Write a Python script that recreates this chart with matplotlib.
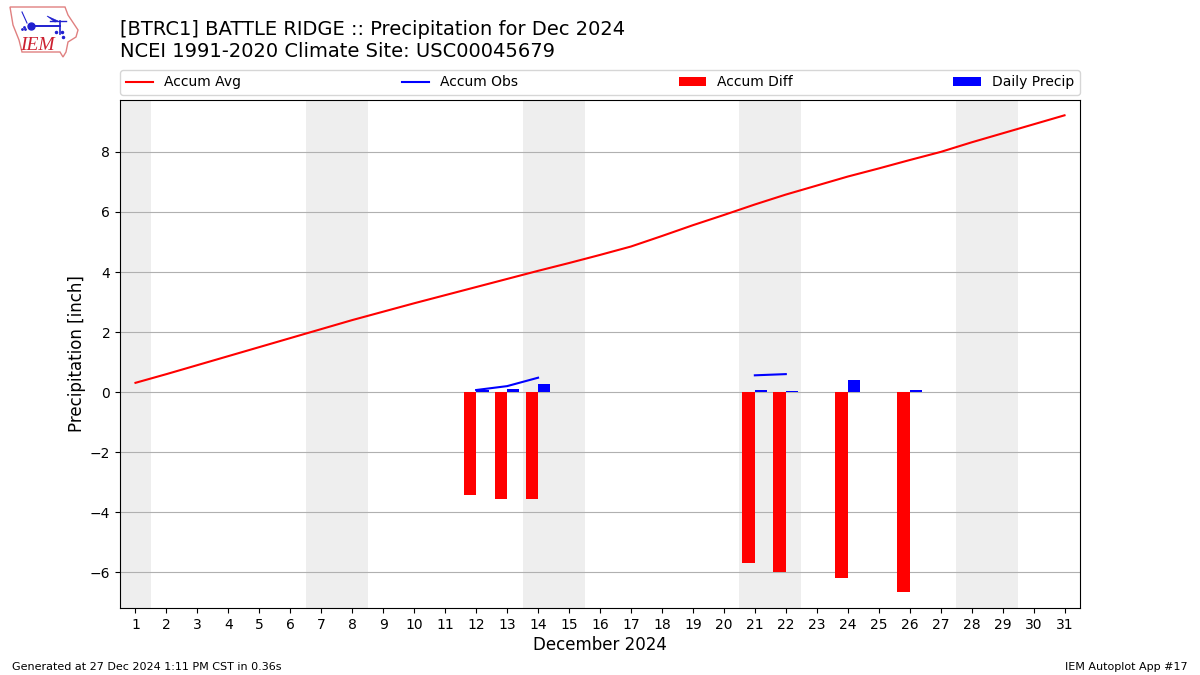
import numpy as np
import matplotlib
matplotlib.use("Agg")
import matplotlib.pyplot as plt
from matplotlib.patches import Polygon

days = list(range(1, 32))
accum_avg = [0.31, 0.60, 0.90, 1.20, 1.50, 1.80, 2.10, 2.40, 2.68, 2.96, 3.23,
             3.50, 3.77, 4.04, 4.30, 4.57, 4.85, 5.20, 5.56, 5.90, 6.25, 6.58,
             6.88, 7.18, 7.45, 7.73, 8.00, 8.32, 8.62, 8.92, 9.22]
nan = float("nan")
accum_obs = [nan] * 11 + [0.07, 0.20, 0.48] + [nan] * 6 + [0.56, 0.60] + [nan] * 9
diff_days = [12, 13, 14, 21, 22, 24, 26]
accum_diff = [-3.43, -3.55, -3.55, -5.68, -5.98, -6.18, -6.65]
daily_precip = [0.07, 0.10, 0.27, 0.07, 0.03, 0.40, 0.07]
weekend_spans = [(0.5, 1.5), (6.5, 8.5), (13.5, 15.5), (20.5, 22.5), (27.5, 29.5)]

W, H = 1200, 675
fig = plt.figure(figsize=(12, 6.75), dpi=100)
ax = fig.add_axes([120 / W, 1 - 608 / H, 960 / W, 508 / H])

for a, b in weekend_spans:
    ax.axvspan(a, b, color="#eeeeee", lw=0, zorder=0)
ax.grid(True, axis="y", color="#b0b0b0", lw=0.8, zorder=1)
ax.set_axisbelow(True)

ax.plot(days, accum_avg, color="red", lw=1.5, label="Accum Avg", zorder=3)
ax.plot(days, accum_obs, color="blue", lw=1.5, label="Accum Obs", zorder=3)
ax.bar(diff_days, accum_diff, width=-0.4, align="edge", color="red", label="Accum Diff", zorder=2)
ax.bar(diff_days, daily_precip, width=0.4, align="edge", color="blue", label="Daily Precip", zorder=2)

ax.set_xlim(0.5, 31.5)
ax.set_ylim(-7.19, 9.73)
ax.set_xticks(days)
ax.set_yticks([-6, -4, -2, 0, 2, 4, 6, 8])
ax.tick_params(labelsize=10)
ax.set_xlabel("December 2024", fontsize=12, labelpad=3)
ax.set_ylabel("Precipitation [inch]", fontsize=12, labelpad=2.5)

ax.legend(loc="lower left", bbox_to_anchor=(0, 1.0098, 1, 0.05), ncol=4, mode="expand",
          borderaxespad=0, fontsize=10)

fig.text(120 / W, 1 - 61 / H, "[BTRC1] BATTLE RIDGE :: Precipitation for Dec 2024\n"
         "NCEI 1991-2020 Climate Site: USC00045679", fontsize=14, ha="left", va="bottom")
fig.text(12 / W, 1 - 666.5 / H, "Generated at 27 Dec 2024 1:11 PM CST in 0.36s", fontsize=8, va="center")
fig.text(1188 / W, 1 - 666.5 / H, "IEM Autoplot App #17", fontsize=8, ha="right", va="center")

# Logo
logo = fig.add_axes([0, 1 - 70 / H, 120 / W, 70 / H])
logo.set_xlim(0, 120)
logo.set_ylim(70, 0)
logo.axis("off")
logo.add_patch(Polygon([(10, 7), (65, 7), (68, 15), (78, 30), (76, 37), (68, 42), (66, 52),
                        (63, 57), (60, 52), (22, 52), (19, 40), (13, 25)],
                       closed=True, fill=False, ec="#e08080", lw=1))
logo.plot([32, 60], [26, 26], color="#2020d0", lw=1.4)
logo.plot([31], [26], "o", color="#2020d0", ms=5)
logo.fill([47, 58, 55], [16, 21, 22], color="#2020d0", lw=0.5)
logo.plot([50, 66], [21, 21], color="#2020d0", lw=1)
logo.plot([60, 60], [21, 34], color="#2020d0", lw=1.2)
logo.plot([22, 27], [12, 23], color="#2020d0", lw=0.8)
logo.plot([22, 25, 24], [29, 29, 27], ".", color="#2020d0", ms=2)
logo.plot([56, 62, 63], [32, 32, 37], ".", color="#2020d0", ms=3)
logo.text(37.5, 46, "IEM", color="#cc2030", fontsize=14, family="Liberation Serif",
          style="italic", ha="center", va="center")

fig.savefig("out.png", dpi=100)
